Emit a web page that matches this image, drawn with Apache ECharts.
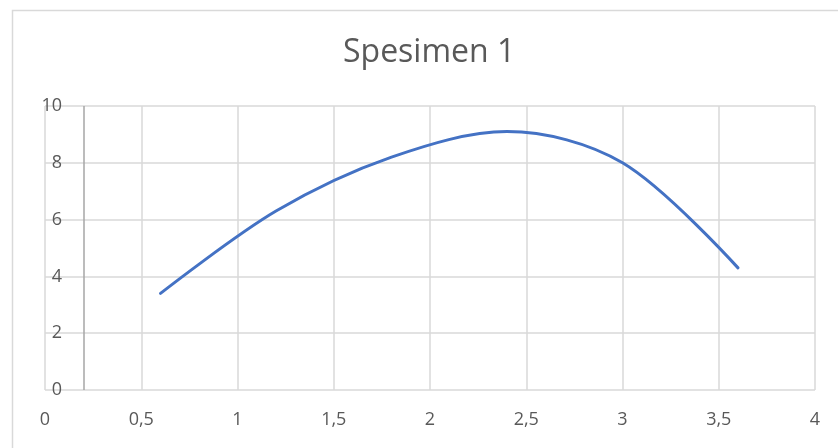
<!DOCTYPE html>
<html>
<head>
<meta charset="utf-8">
<style>html,body{margin:0;padding:0;background:#fff;}#chart{width:838px;height:448px;}</style>
<script src="https://cdn.jsdelivr.net/npm/echarts@6/dist/echarts.min.js"></script>
</head>
<body>
<div id="chart"></div>
<script>
const titleText = 'Spesimen 1';
const xValues = [0.6, 1.2, 1.8, 2.4, 3.0, 3.6];
const yValues = [3.4, 6.3, 8.2, 9.1, 8.0, 4.3];
const yAxisCrossesAt = 0.2;

const chart = echarts.init(document.getElementById('chart'), null, {renderer: 'canvas'});
const labelColor = '#595959';
const gridColor = '#d9d9d9';
const font = '"Open Sans", sans-serif';

chart.setOption({
  animation: false,
  backgroundColor: '#fff',
  graphic: [{
    type: 'rect', left: 10, top: 8, shape: {width: 840, height: 460},
    style: {fill: 'none', stroke: '#d9d9d9', lineWidth: 1.5}, silent: true
  }],
  title: {
    text: titleText, left: 343, top: 37, padding: 0,
    textStyle: {fontFamily: font, fontSize: 32, fontWeight: 'normal', color: labelColor}
  },
  grid: {left: 45, right: 23, top: 106, bottom: 58, containLabel: false},
  xAxis: {
    type: 'value', min: 0, max: 4, interval: 0.5,
    axisLine: {show: false}, axisTick: {show: false},
    splitLine: {show: true, lineStyle: {color: gridColor, width: 1.5}},
    axisLabel: {
      margin: 21, color: labelColor, fontFamily: font, fontSize: 18,
      formatter: v => String(v).replace('.', ',')
    }
  },
  yAxis: {
    type: 'value', min: 0, max: 10, interval: 2,
    axisLine: {show: false}, axisTick: {show: false},
    splitLine: {show: true, lineStyle: {color: gridColor, width: 1.5}},
    axisLabel: {margin: -17, color: labelColor, fontFamily: font, fontSize: 18}
  },
  series: [{
    type: 'line',
    data: xValues.map((x, i) => [x, yValues[i]]),
    smooth: 0.33,
    showSymbol: false,
    lineStyle: {color: '#4472C4', width: 3, cap: 'round'},
    markLine: {
      silent: true, symbol: 'none', label: {show: false},
      lineStyle: {color: '#a6a6a6', width: 1.5, type: 'solid'},
      data: [[{coord: [yAxisCrossesAt, 0]}, {coord: [yAxisCrossesAt, 10]}]]
    }
  }]
});
</script>
</body>
</html>
